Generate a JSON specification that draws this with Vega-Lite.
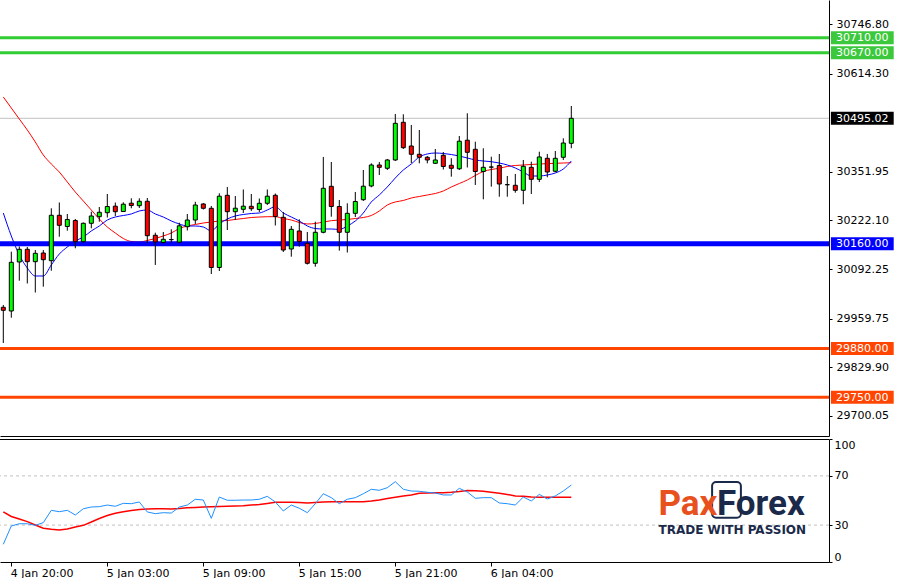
{
  "$schema": "https://vega.github.io/schema/vega-lite/v6.json",
  "padding": 0,
  "background": "white",
  "spacing": 2,
  "config": {
    "view": {"stroke": null},
    "font": "DejaVu Sans",
    "axis": {"labelFont": "DejaVu Sans", "labelFontSize": 11, "labelColor": "#000000", "domainColor": "#000000", "tickColor": "#000000", "grid": false}
  },
  "datasets": {
    "bars": [
      {"i":0,"open":29990.3,"high":29996.5,"low":29895.0,"close":29982.3,"fast":30242.1,"slow":30551.9,"rsi":14.4,"sig":40.7},
      {"i":1,"open":29980.4,"high":30138.8,"low":29962.5,"close":30110.5,"fast":30180.7,"slow":30522.5,"rsi":29.3,"sig":37.0},
      {"i":2,"open":30111.3,"high":30152.7,"low":30061.3,"close":30145.2,"fast":30130.0,"slow":30493.1,"rsi":31.1,"sig":35.0},
      {"i":3,"open":30145.2,"high":30151.3,"low":30053.9,"close":30112.1,"fast":30095.3,"slow":30463.8,"rsi":31.1,"sig":32.8},
      {"i":4,"open":30112.1,"high":30143.3,"low":30029.8,"close":30134.5,"fast":30073.9,"slow":30431.7,"rsi":29.8,"sig":30.1},
      {"i":5,"open":30135.3,"high":30143.3,"low":30045.3,"close":30117.4,"fast":30073.9,"slow":30397.0,"rsi":32.0,"sig":27.4},
      {"i":6,"open":30114.7,"high":30254.7,"low":30088.0,"close":30236.0,"fast":30103.3,"slow":30373.0,"rsi":42.0,"sig":26.6},
      {"i":7,"open":30236.0,"high":30270.2,"low":30178.8,"close":30209.3,"fast":30132.6,"slow":30351.6,"rsi":40.9,"sig":26.0},
      {"i":8,"open":30206.1,"high":30239.5,"low":30194.9,"close":30224.8,"fast":30151.3,"slow":30324.9,"rsi":42.0,"sig":26.8},
      {"i":9,"open":30222.1,"high":30226.1,"low":30147.9,"close":30165.5,"fast":30167.4,"slow":30298.2,"rsi":38.2,"sig":28.5},
      {"i":10,"open":30165.5,"high":30216.8,"low":30163.4,"close":30214.6,"fast":30178.0,"slow":30274.2,"rsi":43.3,"sig":29.8},
      {"i":11,"open":30214.6,"high":30245.6,"low":30201.3,"close":30234.1,"fast":30194.1,"slow":30250.1,"rsi":44.7,"sig":32.5},
      {"i":12,"open":30232.2,"high":30258.1,"low":30218.9,"close":30244.0,"fast":30207.4,"slow":30226.1,"rsi":45.0,"sig":35.4},
      {"i":13,"open":30242.9,"high":30292.9,"low":30230.1,"close":30259.5,"fast":30223.4,"slow":30204.7,"rsi":46.3,"sig":37.8},
      {"i":14,"open":30260.3,"high":30270.2,"low":30234.1,"close":30245.6,"fast":30231.4,"slow":30188.7,"rsi":45.3,"sig":39.6},
      {"i":15,"open":30246.1,"high":30270.7,"low":30244.8,"close":30265.6,"fast":30235.4,"slow":30174.0,"rsi":47.7,"sig":40.8},
      {"i":16,"open":30268.3,"high":30281.4,"low":30254.7,"close":30262.2,"fast":30239.5,"slow":30166.0,"rsi":47.4,"sig":41.8},
      {"i":17,"open":30261.6,"high":30281.4,"low":30255.5,"close":30273.4,"fast":30247.5,"slow":30164.7,"rsi":48.8,"sig":42.6},
      {"i":18,"open":30273.4,"high":30282.2,"low":30162.0,"close":30181.5,"fast":30250.1,"slow":30168.7,"rsi":40.7,"sig":43.1},
      {"i":19,"open":30182.6,"high":30189.5,"low":30103.3,"close":30164.7,"fast":30239.5,"slow":30174.0,"rsi":39.3,"sig":43.3},
      {"i":20,"open":30163.4,"high":30191.4,"low":30160.7,"close":30171.9,"fast":30231.4,"slow":30180.7,"rsi":40.1,"sig":43.3},
      {"i":21,"open":30170.8,"high":30198.6,"low":30163.4,"close":30171.4,"fast":30220.8,"slow":30188.7,"rsi":39.8,"sig":43.1},
      {"i":22,"open":30164.2,"high":30216.2,"low":30161.2,"close":30207.9,"fast":30212.8,"slow":30200.7,"rsi":44.7,"sig":43.5},
      {"i":23,"open":30205.5,"high":30239.5,"low":30195.4,"close":30223.4,"fast":30207.4,"slow":30207.4,"rsi":46.3,"sig":44.1},
      {"i":24,"open":30223.4,"high":30272.0,"low":30212.8,"close":30263.5,"fast":30207.4,"slow":30211.4,"rsi":51.0,"sig":44.4},
      {"i":25,"open":30266.2,"high":30268.8,"low":30251.5,"close":30254.7,"fast":30204.7,"slow":30215.4,"rsi":50.4,"sig":44.7},
      {"i":26,"open":30254.7,"high":30260.8,"low":30079.2,"close":30096.6,"fast":30194.1,"slow":30218.1,"rsi":35.5,"sig":44.9},
      {"i":27,"open":30096.6,"high":30294.7,"low":30087.2,"close":30287.0,"fast":30212.8,"slow":30220.8,"rsi":52.8,"sig":45.1},
      {"i":28,"open":30289.4,"high":30311.6,"low":30196.7,"close":30245.6,"fast":30226.1,"slow":30222.1,"rsi":50.2,"sig":45.4},
      {"i":29,"open":30245.6,"high":30287.5,"low":30223.4,"close":30254.9,"fast":30234.1,"slow":30224.8,"rsi":50.2,"sig":45.5},
      {"i":30,"open":30252.0,"high":30304.9,"low":30242.1,"close":30260.3,"fast":30238.1,"slow":30227.4,"rsi":50.4,"sig":45.7},
      {"i":31,"open":30260.0,"high":30292.9,"low":30247.5,"close":30253.6,"fast":30240.8,"slow":30230.1,"rsi":50.4,"sig":46.3},
      {"i":32,"open":30251.5,"high":30280.8,"low":30244.8,"close":30268.0,"fast":30242.1,"slow":30231.4,"rsi":51.0,"sig":46.7},
      {"i":33,"open":30268.0,"high":30304.9,"low":30263.5,"close":30287.0,"fast":30250.1,"slow":30232.2,"rsi":53.4,"sig":47.6},
      {"i":34,"open":30289.4,"high":30294.2,"low":30208.7,"close":30232.8,"fast":30258.9,"slow":30232.2,"rsi":48.8,"sig":48.5},
      {"i":35,"open":30230.6,"high":30244.8,"low":30138.0,"close":30143.3,"fast":30242.1,"slow":30227.4,"rsi":41.5,"sig":48.5},
      {"i":36,"open":30146.0,"high":30207.4,"low":30125.4,"close":30198.6,"fast":30231.4,"slow":30223.4,"rsi":46.3,"sig":48.5},
      {"i":37,"open":30194.1,"high":30225.3,"low":30152.1,"close":30166.0,"fast":30220.8,"slow":30216.8,"rsi":43.7,"sig":48.4},
      {"i":38,"open":30161.2,"high":30191.4,"low":30104.6,"close":30107.8,"fast":30207.4,"slow":30212.8,"rsi":40.1,"sig":48.0},
      {"i":39,"open":30107.8,"high":30218.9,"low":30098.7,"close":30190.6,"fast":30200.7,"slow":30214.1,"rsi":47.4,"sig":48.4},
      {"i":40,"open":30190.6,"high":30391.7,"low":30187.9,"close":30308.1,"fast":30199.4,"slow":30218.1,"rsi":55.5,"sig":48.8},
      {"i":41,"open":30313.4,"high":30378.3,"low":30232.2,"close":30259.5,"fast":30199.4,"slow":30221.6,"rsi":52.3,"sig":48.9},
      {"i":42,"open":30259.5,"high":30276.8,"low":30141.5,"close":30190.6,"fast":30198.1,"slow":30223.4,"rsi":47.4,"sig":48.9},
      {"i":43,"open":30190.6,"high":30268.0,"low":30136.6,"close":30241.3,"fast":30207.4,"slow":30224.8,"rsi":51.0,"sig":49.0},
      {"i":44,"open":30241.3,"high":30298.2,"low":30231.4,"close":30272.8,"fast":30220.8,"slow":30227.4,"rsi":52.3,"sig":49.0},
      {"i":45,"open":30277.6,"high":30356.9,"low":30274.2,"close":30313.7,"fast":30242.1,"slow":30230.1,"rsi":55.5,"sig":49.0},
      {"i":46,"open":30314.2,"high":30374.8,"low":30310.7,"close":30370.3,"fast":30271.5,"slow":30235.4,"rsi":59.1,"sig":49.6},
      {"i":47,"open":30370.3,"high":30378.3,"low":30343.6,"close":30364.1,"fast":30290.2,"slow":30247.5,"rsi":58.3,"sig":50.4},
      {"i":48,"open":30361.5,"high":30386.3,"low":30356.9,"close":30383.7,"fast":30311.6,"slow":30263.5,"rsi":60.4,"sig":51.6},
      {"i":49,"open":30383.7,"high":30506.5,"low":30381.0,"close":30481.6,"fast":30335.6,"slow":30271.5,"rsi":65.3,"sig":52.6},
      {"i":50,"open":30484.3,"high":30505.7,"low":30413.0,"close":30416.5,"fast":30356.9,"slow":30275.5,"rsi":59.1,"sig":53.7},
      {"i":51,"open":30421.0,"high":30477.1,"low":30375.6,"close":30398.9,"fast":30373.0,"slow":30282.2,"rsi":57.7,"sig":54.5},
      {"i":52,"open":30398.9,"high":30463.8,"low":30374.8,"close":30390.9,"fast":30391.7,"slow":30286.2,"rsi":57.5,"sig":55.9},
      {"i":53,"open":30390.9,"high":30394.3,"low":30374.8,"close":30383.7,"fast":30399.7,"slow":30290.2,"rsi":56.7,"sig":56.1},
      {"i":54,"open":30374.8,"high":30413.0,"low":30373.0,"close":30383.7,"fast":30402.3,"slow":30294.2,"rsi":56.1,"sig":56.3},
      {"i":55,"open":30396.2,"high":30405.0,"low":30358.3,"close":30366.3,"fast":30401.0,"slow":30300.9,"rsi":54.5,"sig":56.3},
      {"i":56,"open":30369.5,"high":30388.2,"low":30339.1,"close":30361.5,"fast":30398.3,"slow":30311.6,"rsi":54.5,"sig":56.7},
      {"i":57,"open":30360.2,"high":30447.7,"low":30356.9,"close":30433.9,"fast":30394.3,"slow":30320.9,"rsi":59.9,"sig":57.3},
      {"i":58,"open":30436.5,"high":30508.4,"low":30363.6,"close":30404.2,"fast":30389.0,"slow":30330.2,"rsi":56.9,"sig":58.1},
      {"i":59,"open":30412.2,"high":30432.5,"low":30316.9,"close":30352.9,"fast":30383.7,"slow":30342.3,"rsi":51.8,"sig":57.9},
      {"i":60,"open":30352.9,"high":30414.9,"low":30278.7,"close":30364.1,"fast":30381.0,"slow":30352.9,"rsi":52.3,"sig":57.5},
      {"i":61,"open":30364.6,"high":30392.5,"low":30312.4,"close":30365.0,"fast":30379.1,"slow":30358.3,"rsi":52.3,"sig":56.7},
      {"i":62,"open":30369.0,"high":30399.7,"low":30285.6,"close":30319.6,"fast":30375.6,"slow":30361.5,"rsi":48.0,"sig":55.9},
      {"i":63,"open":30317.9,"high":30340.9,"low":30285.6,"close":30317.5,"fast":30370.3,"slow":30366.3,"rsi":47.4,"sig":54.9},
      {"i":64,"open":30316.1,"high":30346.3,"low":30296.3,"close":30302.7,"fast":30362.3,"slow":30369.0,"rsi":46.3,"sig":53.7},
      {"i":65,"open":30302.7,"high":30383.7,"low":30265.4,"close":30366.8,"fast":30351.6,"slow":30370.3,"rsi":52.8,"sig":53.4},
      {"i":66,"open":30364.1,"high":30379.1,"low":30292.9,"close":30332.1,"fast":30340.9,"slow":30371.6,"rsi":49.6,"sig":52.8},
      {"i":67,"open":30332.1,"high":30405.8,"low":30324.9,"close":30391.7,"fast":30340.9,"slow":30373.0,"rsi":55.0,"sig":52.6},
      {"i":68,"open":30388.2,"high":30399.7,"low":30337.5,"close":30351.6,"fast":30343.6,"slow":30373.8,"rsi":51.2,"sig":52.6},
      {"i":69,"open":30353.5,"high":30407.7,"low":30350.8,"close":30388.2,"fast":30348.9,"slow":30374.8,"rsi":53.7,"sig":52.6},
      {"i":70,"open":30390.9,"high":30441.6,"low":30383.7,"close":30429.0,"fast":30359.6,"slow":30375.6,"rsi":57.7,"sig":52.6},
      {"i":71,"open":30428.2,"high":30527.8,"low":30414.9,"close":30495.0,"fast":30381.0,"slow":30376.4,"rsi":62.6,"sig":52.6}
    ],
    "levels": [
      {"level":30710.0,"label":"30710.00","kind":"resistance"},
      {"level":30670.0,"label":"30670.00","kind":"resistance"},
      {"level":30160.0,"label":"30160.00","kind":"pivot"},
      {"level":29880.0,"label":"29880.00","kind":"support"},
      {"level":29750.0,"label":"29750.00","kind":"support"},
      {"level":30495.02,"label":"30495.02","kind":"price"}
    ],
    "rsiLevels": [{"lvl":30},{"lvl":70}],
    "brand": [{"part1":"Pax","part2":"Forex","tagline":"TRADE WITH PASSION"}]
  },
  "vconcat": [
    {
      "width": 829,
      "height": 436,
      "layer": [
        {
          "data": {"name": "levels"},
          "transform": [{"filter": "datum.kind == 'price'"}],
          "mark": {"type": "rule", "color": "#C0C0C0", "strokeWidth": 1, "clip": true},
          "encoding": {"y": {"field": "level", "type": "quantitative"}}
        },
        {
          "data": {"name": "bars"},
          "mark": {"type": "line", "color": "#FF0000", "strokeWidth": 1, "interpolate": "monotone"},
          "encoding": {
            "x": {"field": "i", "type": "quantitative", "scale": {"domain": [-0.4125, 103.2125], "nice": false, "zero": false, "padding": 0},
                  "axis": {"labels": false, "ticks": false, "domain": true, "title": null}},
            "y": {"field": "slow", "type": "quantitative"}
          }
        },
        {
          "data": {"name": "bars"},
          "mark": {"type": "line", "color": "#0000FF", "strokeWidth": 1, "interpolate": "monotone"},
          "encoding": {
            "x": {"field": "i", "type": "quantitative"},
            "y": {"field": "fast", "type": "quantitative"}
          }
        },
        {
          "data": {"name": "levels"},
          "transform": [{"filter": "datum.kind != 'price'"}],
          "mark": {"type": "rule", "clip": true},
          "encoding": {
            "y": {"field": "level", "type": "quantitative"},
            "color": {"field": "kind", "type": "nominal", "legend": null,
                      "scale": {"domain": ["resistance", "pivot", "support"], "range": ["#32CD32", "#0000FF", "#FF4500"]}},
            "strokeWidth": {"field": "kind", "type": "nominal", "legend": null,
                      "scale": {"type": "ordinal", "domain": ["resistance", "pivot", "support"], "range": [3, 5, 3]}}
          }
        },
        {
          "data": {"name": "bars"},
          "mark": {"type": "rule", "color": "#000000", "strokeWidth": 1},
          "encoding": {
            "x": {"field": "i", "type": "quantitative"},
            "y": {"field": "low", "type": "quantitative",
                  "scale": {"domain": [29646.6, 30810.9], "nice": false, "zero": false},
                  "axis": {"orient": "right", "title": null, "format": ".2f", "tickSize": 3, "labelPadding": 4,
                           "values": [30746.8, 30614.3, 30351.95, 30222.1, 30092.25, 29959.75, 29829.9, 29700.05]}},
            "y2": {"field": "high"}
          }
        },
        {
          "data": {"name": "bars"},
          "mark": {"type": "bar", "size": 4, "stroke": "#000000", "strokeWidth": 1},
          "encoding": {
            "x": {"field": "i", "type": "quantitative"},
            "y": {"field": "open", "type": "quantitative"},
            "y2": {"field": "close"},
            "fill": {"condition": {"test": "datum.close > datum.open", "value": "#00FF00"}, "value": "#FF0000"}
          }
        },
        {
          "data": {"name": "levels"},
          "mark": {"type": "rule", "strokeWidth": 13, "strokeCap": "butt", "clip": false},
          "encoding": {
            "x": {"datum": 103.45, "type": "quantitative"},
            "x2": {"datum": 111.3},
            "y": {"field": "level", "type": "quantitative"},
            "stroke": {"field": "kind", "type": "nominal", "legend": null,
                       "scale": {"domain": ["resistance", "pivot", "support", "price"], "range": ["#3CC83C", "#0000FF", "#FF4500", "#000000"]}}
          }
        },
        {
          "data": {"name": "levels"},
          "mark": {"type": "text", "align": "left", "baseline": "middle", "color": "#FFFFFF", "font": "DejaVu Sans", "fontSize": 11, "dy": 0.5, "clip": false},
          "encoding": {
            "x": {"datum": 104.1, "type": "quantitative"},
            "y": {"field": "level", "type": "quantitative"},
            "text": {"field": "label"}
          }
        }
      ]
    },
    {
      "width": 829,
      "height": 123,
      "layer": [
        {
          "data": {"name": "rsiLevels"},
          "mark": {"type": "rule", "color": "#C0C0C0", "strokeWidth": 1, "strokeDash": [3, 3], "clip": true},
          "encoding": {"y": {"field": "lvl", "type": "quantitative"}}
        },
        {
          "data": {"name": "brand"},
          "mark": {"type": "rule", "color": "#000000", "strokeWidth": 1, "clip": true},
          "encoding": {"y": {"datum": 99.6, "type": "quantitative"}}
        },
        {
          "data": {"name": "bars"},
          "mark": {"type": "line", "color": "#FF0000", "strokeWidth": 1.5},
          "encoding": {
            "x": {"field": "i", "type": "quantitative", "scale": {"domain": [-0.4125, 103.2125], "nice": false, "zero": false, "padding": 0},
                  "axis": {"title": null, "values": [1, 13, 25, 37, 49, 61], "tickSize": 4, "labelAlign": "left", "labelBaseline": "top", "labelPadding": 1, "labelOffset": -1, "labelFlush": false,
                           "labelExpr": "datum.value == 1 ? '4 Jan 20:00' : datum.value == 13 ? '5 Jan 03:00' : datum.value == 25 ? '5 Jan 09:00' : datum.value == 37 ? '5 Jan 15:00' : datum.value == 49 ? '5 Jan 21:00' : '6 Jan 04:00'"}},
            "y": {"field": "sig", "type": "quantitative"}
          }
        },
        {
          "data": {"name": "bars"},
          "mark": {"type": "line", "color": "#1E90FF", "strokeWidth": 1},
          "encoding": {
            "x": {"field": "i", "type": "quantitative"},
            "y": {"field": "rsi", "type": "quantitative", "scale": {"domain": [0, 100], "nice": false},
                  "axis": {"orient": "right", "title": null, "values": [0, 30, 70, 100], "labelFlush": true, "tickSize": 3, "labelPadding": 2}}
          }
        },
        {
          "data": {"name": "brand"},
          "mark": {"type": "rect", "fill": null, "stroke": "#1B2A4A", "strokeWidth": 2, "cornerRadius": 4},
          "encoding": {
            "x": {"datum": 88.6, "type": "quantitative"}, "x2": {"datum": 92.2},
            "y": {"datum": 65, "type": "quantitative"}, "y2": {"datum": 36}
          }
        },
        {
          "data": {"name": "brand"},
          "mark": {"type": "text", "align": "left", "baseline": "alphabetic", "font": "Roboto", "fontWeight": "bold", "fontSize": 35, "color": "#E8501E"},
          "encoding": {"x": {"datum": 81.9, "type": "quantitative"}, "y": {"datum": 38.5, "type": "quantitative"}, "text": {"field": "part1"}}
        },
        {
          "data": {"name": "brand"},
          "mark": {"type": "text", "align": "left", "baseline": "alphabetic", "font": "Roboto", "fontWeight": "bold", "fontSize": 35, "color": "#1B2A4A"},
          "encoding": {"x": {"datum": 89.2, "type": "quantitative"}, "y": {"datum": 38.5, "type": "quantitative"}, "text": {"field": "part2"}}
        },
        {
          "data": {"name": "brand"},
          "mark": {"type": "text", "align": "left", "baseline": "alphabetic", "font": "DejaVu Sans", "fontWeight": "bold", "fontSize": 12, "color": "#1B2A4A"},
          "encoding": {"x": {"datum": 81.9, "type": "quantitative"}, "y": {"datum": 22.5, "type": "quantitative"}, "text": {"field": "tagline"}}
        }
      ]
    }
  ]
}
